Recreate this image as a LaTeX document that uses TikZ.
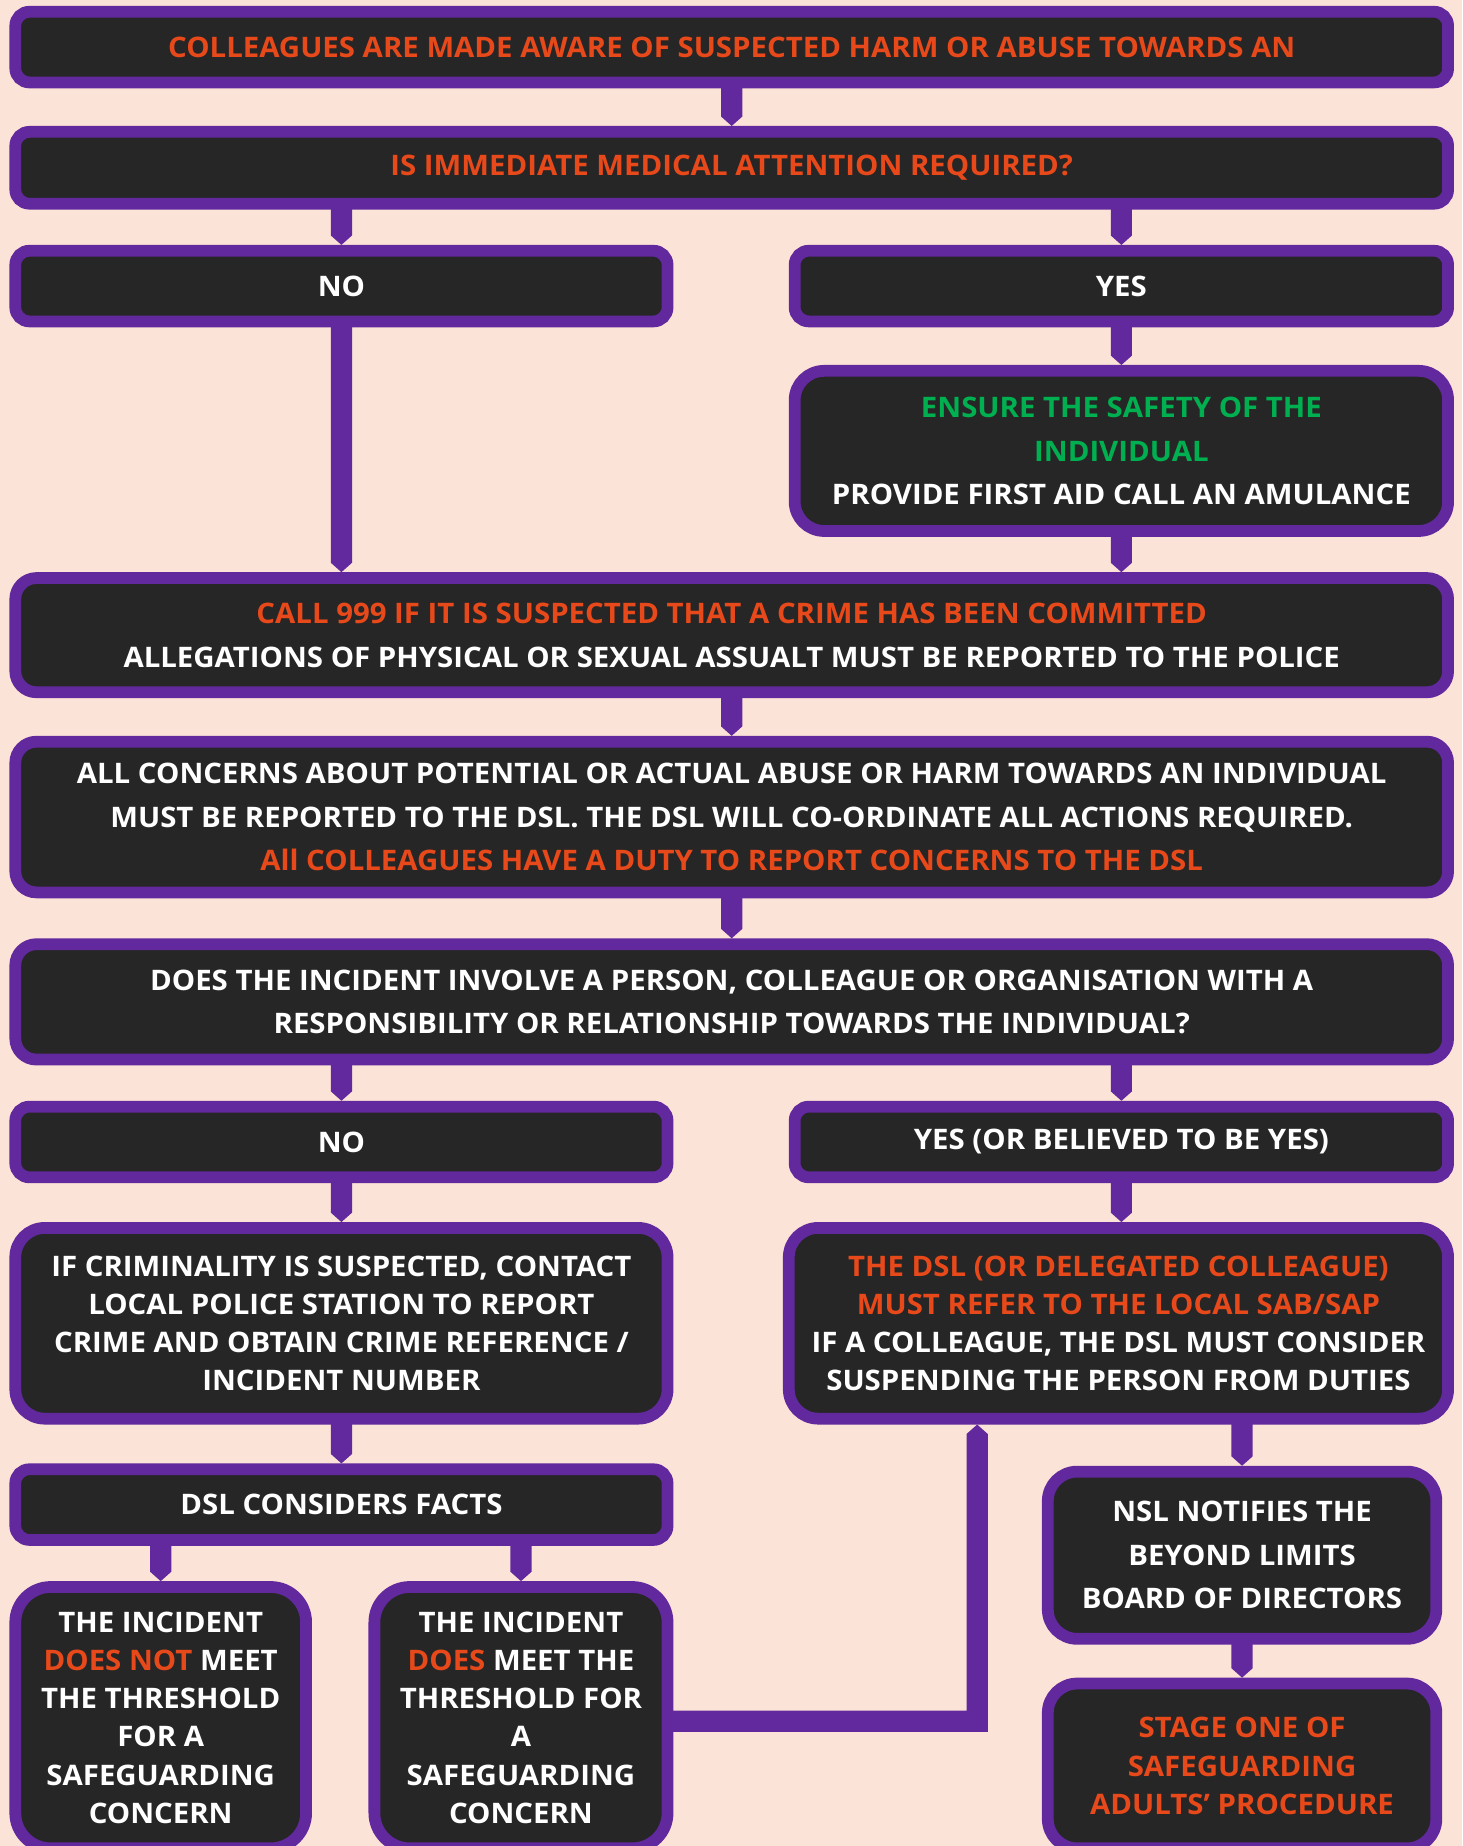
\documentclass[tikz,border=0pt]{standalone}
\usepackage{fontspec}
\setmainfont{Open Sans}[FakeStretch=1.04]
\usetikzlibrary{calc}
\definecolor{bg}{HTML}{FCE3D7}
\definecolor{purp}{HTML}{62289D}
\definecolor{dark}{HTML}{262626}
\definecolor{orng}{HTML}{E8491A}
\definecolor{grn}{HTML}{00B050}
\newcommand\Or[1]{\textcolor{orng}{#1}}
\newcommand\Gr[1]{\textcolor{grn}{#1}}
\newcommand\fs[2]{\fontsize{#1}{#2}\selectfont}
% downward tab connector: from top point #1 to tip #2
\newcommand\tabconn[2]{\fill[purp] let \p1=(#1), \p2=(#2) in
  (\x2-9pt,\y1+3pt) -- (\x2+9pt,\y1+3pt) -- (\x2+9pt,\y2+8pt) -- (\x2,\y2) -- (\x2-9pt,\y2+8pt) -- cycle;}
\tikzset{
  box/.style={draw=purp, fill=dark, line width=10pt, rounded corners=12pt, align=center,
    text=white, inner sep=0pt, outer sep=5pt, font=\bfseries\fs{24}{37}},
  midbox/.style={box, rounded corners=18pt},
  bigbox/.style={box, rounded corners=25pt},
  tallbox/.style={box, rounded corners=30pt},
}
\begin{document}
\begin{tikzpicture}[x=1pt,y=-1pt]
\fill[bg] (0,0) rectangle (1242,1568);
\useasboundingbox (0,0) rectangle (1242,1568);

\node[box, minimum width=1217, minimum height=60] (b1) at (621.5,40)
  {\Or{COLLEAGUES ARE MADE AWARE OF SUSPECTED HARM OR ABUSE TOWARDS AN}};
\node[box, minimum width=1217, minimum height=61] (b2) at (621.5,142.5)
  {\Or{IS IMMEDIATE MEDICAL ATTENTION REQUIRED?}};
\node[box, minimum width=554, minimum height=60] (no1) at (290,243) {NO};
\node[box, minimum width=555, minimum height=60] (yes1) at (952.5,243) {YES};
\node[bigbox, minimum width=555, minimum height=136] (ens) at (952.5,383)
  {\Gr{ENSURE THE SAFETY OF THE}\\\Gr{INDIVIDUAL}\\PROVIDE FIRST AID CALL AN AMULANCE};
\node[midbox, minimum width=1217, minimum height=97] (call) at (621.5,539.5)
  {\Or{CALL 999 IF IT IS SUSPECTED THAT A CRIME HAS BEEN COMMITTED}\\
   ALLEGATIONS OF PHYSICAL OR SEXUAL ASSUALT MUST BE REPORTED TO THE POLICE};
\node[midbox, minimum width=1217, minimum height=128] (conc) at (621.5,694)
  {ALL CONCERNS ABOUT POTENTIAL OR ACTUAL ABUSE OR HARM TOWARDS AN INDIVIDUAL\\
   MUST BE REPORTED TO THE DSL. THE DSL WILL CO-ORDINATE ALL ACTIONS REQUIRED.\\
   \Or{All COLLEAGUES HAVE A DUTY TO REPORT CONCERNS TO THE DSL}};
\node[midbox, minimum width=1217, minimum height=98, font=\bfseries\fs{24}{36}] (inv) at (621.5,851)
  {DOES THE INCIDENT INVOLVE A PERSON, COLLEAGUE OR ORGANISATION WITH A\\
   RESPONSIBILITY OR RELATIONSHIP TOWARDS THE INDIVIDUAL?};
\node[box, minimum width=554, minimum height=60] (no2) at (290,970) {NO};
\node[box, minimum width=555, minimum height=60] (yes2) at (952.5,970) {YES (OR BELIEVED TO BE YES)};
\node[bigbox, minimum width=554, minimum height=162, font=\bfseries\fs{24}{32.5}] (crim) at (290,1124)
  {IF CRIMINALITY IS SUSPECTED, CONTACT\\LOCAL POLICE STATION TO REPORT\\
   CRIME AND OBTAIN CRIME REFERENCE /\\INCIDENT NUMBER};
\node[bigbox, minimum width=560, minimum height=162, font=\bfseries\fs{24}{32.5}] (ref) at (950,1124)
  {\Or{THE DSL (OR DELEGATED COLLEAGUE)}\\\Or{MUST REFER TO THE LOCAL SAB/SAP}\\
   IF A COLLEAGUE, THE DSL MUST CONSIDER\\SUSPENDING THE PERSON FROM DUTIES};
\node[box, minimum width=554, minimum height=60] (facts) at (290,1278) {DSL CONSIDERS FACTS};
\node[tallbox, minimum width=247, minimum height=222, font=\bfseries\fs{24}{32.5}] (notm) at (136.5,1459)
  {THE INCIDENT\\\Or{DOES NOT} MEET\\THE THRESHOLD\\FOR A\\SAFEGUARDING\\CONCERN};
\node[tallbox, minimum width=249, minimum height=222, font=\bfseries\fs{24}{32.5}] (meet) at (442.5,1459)
  {THE INCIDENT\\\Or{DOES} MEET THE\\THRESHOLD FOR\\A\\SAFEGUARDING\\CONCERN};
\node[bigbox, minimum width=330, minimum height=142] (nsl) at (1055,1321)
  {NSL NOTIFIES THE\\BEYOND LIMITS\\BOARD OF DIRECTORS};
\node[bigbox, minimum width=330, minimum height=140, font=\bfseries\fs{24}{33}] (stage) at (1055,1500)
  {\Or{STAGE ONE OF}\\\Or{SAFEGUARDING}\\\Or{ADULTS’ PROCEDURE}};
\coordinate (elbow) at (830,1462);

\tabconn{b1.south}{b2.north}
\tabconn{b2.south -| no1.north}{no1.north}
\tabconn{b2.south -| yes1.north}{yes1.north}
\tabconn{yes1.south}{ens.north}
\tabconn{ens.south}{call.north -| ens.south}
\tabconn{no1.south}{call.north -| no1.south}
\tabconn{call.south}{conc.north}
\tabconn{conc.south}{inv.north}
\tabconn{inv.south -| no2.north}{no2.north}
\tabconn{inv.south -| yes2.north}{yes2.north}
\tabconn{no2.south}{crim.north}
\tabconn{yes2.south}{ref.north -| yes2.south}
\tabconn{crim.south}{facts.north}
\tabconn{facts.south -| notm.north}{notm.north}
\tabconn{facts.south -| meet.north}{meet.north}
\tabconn{ref.south -| nsl.north}{nsl.north}
\tabconn{nsl.south}{stage.north}
\fill[purp] let \p1=(meet.east), \p2=(elbow), \p3=(ref.south -| elbow) in
  (\x1-3pt,\y2+9pt) -- (\x2-9pt,\y2+9pt) -- (\x2-9pt,\y3-8pt) -- (\x2,\y3)
  -- (\x2+9pt,\y3-8pt) -- (\x2+9pt,\y2-9pt) -- (\x1-3pt,\y2-9pt) -- cycle;
\end{tikzpicture}
\end{document}
